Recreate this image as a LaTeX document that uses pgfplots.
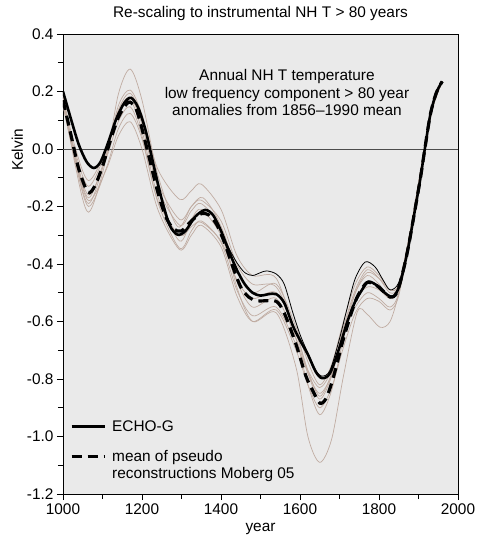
\documentclass[border=0pt]{standalone}
\usepackage{pgfplots}
\pgfplotsset{compat=1.18}
\usepackage{pgfplotstable}
\usepackage{fontspec}
\setmainfont{Liberation Sans}

\definecolor{bg}{RGB}{234,234,234}
\definecolor{pseudo}{RGB}{192,172,162}

% ECHO-G, low frequency NH T
\pgfplotstableread{
year  t
1000  0.200
1020  0.105
1040  0.015
1060 -0.045
1078 -0.066
1095 -0.045
1115  0.025
1135  0.105
1155  0.160
1172  0.178
1190  0.145
1210  0.060
1230 -0.060
1250 -0.175
1270 -0.265
1290 -0.298
1310 -0.285
1335 -0.235
1360 -0.212
1380 -0.230
1400 -0.285
1420 -0.355
1440 -0.420
1460 -0.470
1480 -0.500
1500 -0.510
1520 -0.505
1540 -0.505
1560 -0.535
1582 -0.615
1600 -0.665
1620 -0.715
1640 -0.775
1656 -0.797
1676 -0.780
1700 -0.690
1720 -0.600
1740 -0.530
1757 -0.490
1772 -0.462
1790 -0.470
1810 -0.495
1835 -0.515
1853 -0.470
1873 -0.350
1890 -0.220
1905 -0.100
1916  0.000
1930  0.120
1945  0.195
1960  0.235
}\echog

% thin black curve
\pgfplotstableread{
year  t
1000  0.200
1020  0.105
1040  0.015
1060 -0.045
1078 -0.066
1095 -0.045
1115  0.025
1135  0.105
1155  0.160
1172  0.178
1190  0.145
1210  0.060
1230 -0.060
1250 -0.175
1270 -0.265
1290 -0.298
1310 -0.285
1335 -0.235
1360 -0.212
1380 -0.230
1400 -0.285
1420 -0.345
1440 -0.395
1460 -0.430
1480 -0.440
1500 -0.430
1516 -0.424
1540 -0.435
1560 -0.470
1582 -0.570
1600 -0.645
1620 -0.710
1640 -0.770
1656 -0.790
1676 -0.770
1700 -0.660
1720 -0.550
1740 -0.450
1765 -0.393
1790 -0.410
1810 -0.455
1828 -0.490
1850 -0.465
1873 -0.350
1890 -0.220
1905 -0.100
1916  0.000
1930  0.120
1945  0.195
1960  0.235
}\thinblack

% mean of pseudo reconstructions
\pgfplotstableread{
year  t
1000  0.170
1020  0.050
1040 -0.070
1063 -0.150
1080 -0.130
1100 -0.060
1120  0.030
1140  0.110
1160  0.155
1170  0.163
1185  0.140
1200  0.070
1220 -0.040
1240 -0.150
1260 -0.235
1280 -0.278
1300 -0.285
1325 -0.250
1350 -0.225
1370 -0.230
1390 -0.265
1410 -0.330
1430 -0.410
1450 -0.480
1470 -0.515
1490 -0.528
1510 -0.528
1540 -0.530
1560 -0.570
1590 -0.680
1615 -0.790
1632 -0.840
1650 -0.884
1665 -0.870
1680 -0.815
1695 -0.740
1710 -0.660
1740 -0.530
1765 -0.470
1780 -0.465
1800 -0.480
1828 -0.515
1845 -0.500
1860 -0.430
1873 -0.350
1890 -0.220
1905 -0.100
1916  0.000
1930  0.120
1945  0.195
1960  0.235
}\meanpseudo

% pseudo reconstruction with the largest amplitude
\pgfplotstableread{
year  t
1000  0.190
1030 -0.050
1065 -0.220
1110 -0.030
1140  0.190
1170  0.278
1200  0.170
1240 -0.090
1290 -0.270
1325 -0.200
1355 -0.170
1400 -0.270
1440 -0.480
1480 -0.600
1540 -0.570
1590 -0.760
1620 -1.000
1650 -1.090
1680 -1.010
1710 -0.790
1745 -0.567
1770 -0.575
1803 -0.620
1828 -0.600
1850 -0.500
1880 -0.290
1910 -0.040
1935  0.140
1960  0.235
}\pseudoA

% further pseudo reconstructions
\pgfplotstableread{
year  b2     b3     b4     b5     b6     b7     b8
1000  0.180  0.170  0.160  0.170  0.155  0.150  0.180
1030 -0.030 -0.020 -0.005 -0.015 -0.040 -0.030  0.010
1065 -0.190 -0.170 -0.130 -0.160 -0.200 -0.180 -0.110
1110 -0.020 -0.015 -0.005 -0.030 -0.065 -0.070  0.000
1140  0.150  0.135  0.120  0.095  0.070  0.045  0.130
1170  0.205  0.194  0.170  0.147  0.124  0.095  0.180
1200  0.120  0.103  0.063  0.045  0.035  0.000  0.085
1240 -0.070 -0.117 -0.165 -0.185 -0.180 -0.210 -0.135
1295 -0.175 -0.245 -0.320 -0.345 -0.300 -0.350 -0.265
1325 -0.145 -0.200 -0.245 -0.285 -0.270 -0.300 -0.215
1350 -0.122 -0.178 -0.210 -0.250 -0.255 -0.265 -0.190
1400 -0.210 -0.250 -0.300 -0.325 -0.320 -0.340 -0.270
1440 -0.370 -0.400 -0.460 -0.490 -0.455 -0.510 -0.420
1480 -0.440 -0.470 -0.550 -0.580 -0.520 -0.600 -0.500
1540 -0.450 -0.480 -0.520 -0.550 -0.500 -0.560 -0.470
1590 -0.660 -0.640 -0.660 -0.680 -0.640 -0.700 -0.620
1620 -0.820 -0.770 -0.780 -0.770 -0.780 -0.820 -0.740
1650 -0.924 -0.860 -0.850 -0.830 -0.870 -0.900 -0.820
1680 -0.840 -0.780 -0.785 -0.770 -0.790 -0.830 -0.750
1710 -0.660 -0.620 -0.640 -0.640 -0.630 -0.690 -0.600
1740 -0.500 -0.490 -0.525 -0.550 -0.500 -0.570 -0.470
1770 -0.430 -0.420 -0.480 -0.500 -0.440 -0.520 -0.410
1800 -0.450 -0.450 -0.490 -0.520 -0.470 -0.530 -0.440
1828 -0.490 -0.500 -0.520 -0.550 -0.520 -0.560 -0.490
1850 -0.470 -0.475 -0.485 -0.500 -0.485 -0.510 -0.470
1880 -0.280 -0.280 -0.280 -0.285 -0.280 -0.290 -0.280
1910 -0.040 -0.040 -0.040 -0.040 -0.040 -0.040 -0.040
1935  0.140  0.140  0.140  0.140  0.140  0.140  0.140
1960  0.235  0.235  0.235  0.235  0.235  0.235  0.235
}\pseudoB

\begin{document}
\begin{tikzpicture}
\begin{axis}[
    at={(0,0)}, anchor=south west,
    scale only axis,
    width=395bp, height=460bp,
    font=\fontsize{15.4bp}{17bp}\selectfont,
    /pgf/number format/assume math mode=true,
    axis background/.style={fill=bg},
    axis line style={line width=0.8pt},
    xmin=1000, xmax=2000,
    ymin=-1.2, ymax=0.4,
    xtick={1000,1200,...,2000},
    minor xtick={1100,1300,...,1900},
    ytick={-1.2,-1.0,...,0.4},
    minor ytick={-1.1,-0.9,...,0.3},
    xtick pos=bottom, ytick pos=left,
    tick align=outside,
    major tick length=6bp, minor tick length=5bp,
    every tick/.style={black, line width=0.8pt},
    x tick label style={/pgf/number format/1000 sep={}},
    y tick label style={/pgf/number format/.cd, fixed, fixed zerofill, precision=1},
    xlabel={year},
    ylabel={Kelvin},
    xlabel style={at={([yshift=-37bp]axis description cs:0.5,0)}, anchor=base},
    ylabel style={at={([xshift=-40bp]axis description cs:0,0.748)}, anchor=base},
    title={Re-scaling to instrumental NH T > 80 years},
    every axis title shift=0pt,
    title style={at={([yshift=16bp]axis description cs:0.5,1)}, anchor=base},
    legend style={at={(axis description cs:0,0)}, anchor=south west,
        xshift=7bp, yshift=12bp, inner sep=0pt, outer sep=0pt,
        draw=none, fill=none, row sep=0pt, column sep=4bp,
        cells={anchor=base west, inner sep=0pt},
        font=\fontsize{15.4bp}{15.5bp}\selectfont},
    legend image code/.code={\draw[#1] (0bp,5bp) -- (33bp,5bp);},
]
\addplot[forget plot, black!70, line width=0.8pt] coordinates {(1000,0) (2000,0)};

\addplot[forget plot, pseudo, line width=0.7pt, smooth] table[x=year, y=t] {\pseudoA};
\addplot[forget plot, pseudo, line width=0.7pt, smooth] table[x=year, y=b2] {\pseudoB};
\addplot[forget plot, pseudo, line width=0.7pt, smooth] table[x=year, y=b3] {\pseudoB};
\addplot[forget plot, pseudo, line width=0.7pt, smooth] table[x=year, y=b4] {\pseudoB};
\addplot[forget plot, pseudo, line width=0.7pt, smooth] table[x=year, y=b5] {\pseudoB};
\addplot[forget plot, pseudo, line width=0.7pt, smooth] table[x=year, y=b6] {\pseudoB};
\addplot[forget plot, pseudo, line width=0.7pt, smooth] table[x=year, y=b7] {\pseudoB};
\addplot[forget plot, pseudo, line width=0.7pt, smooth] table[x=year, y=b8] {\pseudoB};

\addplot[forget plot, black, line width=0.8pt, smooth] table[x=year, y=t] {\thinblack};

\addplot[black, line width=2.6pt, smooth] table[x=year, y=t] {\echog};
\addlegendentry{\rule[-3bp]{0pt}{12bp}ECHO-G}
\addplot[black, line width=3.2pt, dash pattern=on 10bp off 6bp, smooth] table[x=year, y=t] {\meanpseudo};
\addlegendentry{\rule[-3bp]{0pt}{28bp}mean of pseudo}
\addlegendimage{empty legend}
\addlegendentry{\rule[-3bp]{0pt}{12.5bp}reconstructions Moberg 05}

\node[align=center, font=\fontsize{15.4bp}{17.5bp}\selectfont] at (axis cs:1567,0.195)
    {Annual NH T temperature\\low frequency component > 80 year\\anomalies from 1856--1990 mean};
\end{axis}
\pgfresetboundingbox
\path[use as bounding box] (-63bp,-42bp) rectangle (419bp,494bp);
\end{tikzpicture}
\end{document}
